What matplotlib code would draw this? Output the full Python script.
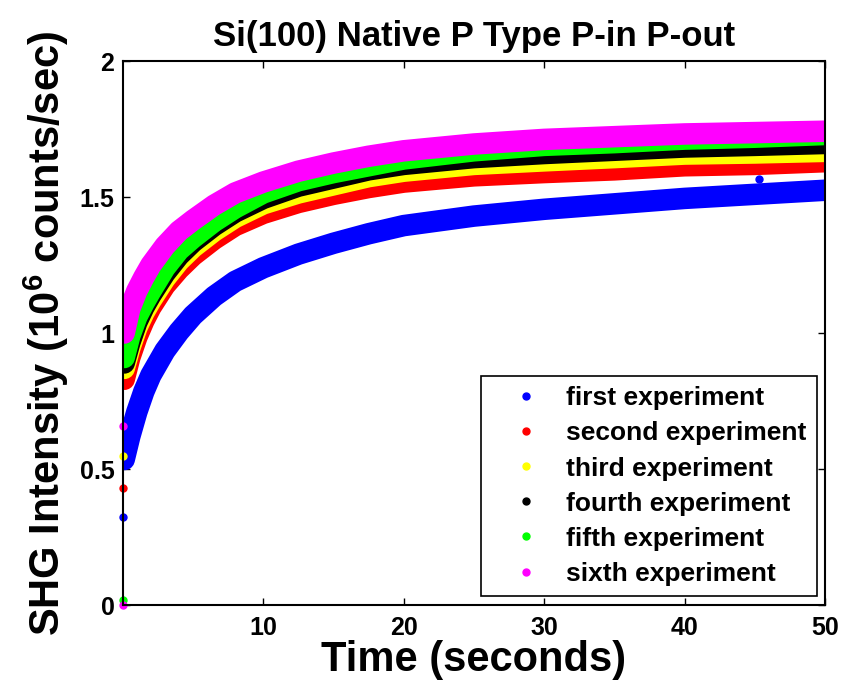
import numpy as np
import matplotlib.pyplot as plt
from matplotlib.lines import Line2D

plt.rcParams['font.family'] = 'Liberation Sans'
plt.rcParams['font.weight'] = 'bold'
plt.rcParams['mathtext.fontset'] = 'custom'
plt.rcParams['mathtext.rm'] = 'Liberation Sans:bold'
plt.rcParams['mathtext.bf'] = 'Liberation Sans:bold'

# data (time in s, intensity in 10^6 counts/sec)
t = [0.1, 0.5, 1, 1.5, 2, 3, 4, 5, 6.5, 8, 10, 12.5, 15, 17.5, 20, 25, 30, 35, 40, 45, 50]
first = [0.535, 0.62, 0.71, 0.785, 0.845, 0.935, 1.005, 1.065, 1.135, 1.19, 1.24, 1.29, 1.33, 1.365,
         1.395, 1.43, 1.455, 1.475, 1.495, 1.51, 1.525]
second = [0.83, 0.91, 0.985, 1.045, 1.095, 1.175, 1.235, 1.285, 1.345, 1.395, 1.44, 1.48, 1.51, 1.535,
          1.555, 1.578, 1.59, 1.60, 1.615, 1.62, 1.63]
third = [0.87, 0.945, 1.02, 1.075, 1.12, 1.2, 1.265, 1.315, 1.375, 1.425, 1.475, 1.515, 1.545, 1.575,
         1.595, 1.62, 1.633, 1.645, 1.658, 1.662, 1.668]
fourth = [0.89, 0.965, 1.04, 1.095, 1.14, 1.22, 1.285, 1.335, 1.395, 1.445, 1.495, 1.54, 1.57, 1.60,
          1.62, 1.645, 1.66, 1.672, 1.684, 1.69, 1.697]
fifth = [0.91, 0.99, 1.06, 1.11, 1.155, 1.24, 1.305, 1.35, 1.41, 1.46, 1.515, 1.56, 1.59, 1.615,
         1.64, 1.67, 1.69, 1.70, 1.713, 1.72, 1.73]
sixth = [1.0, 1.09, 1.155, 1.205, 1.25, 1.32, 1.375, 1.415, 1.47, 1.515, 1.555, 1.595, 1.625, 1.65,
         1.67, 1.695, 1.712, 1.722, 1.732, 1.737, 1.742]

# stray points
out_t = [[0.05, 45.3], [0.05], [0.05], [], [0.05], [0.05, 0.05]]
out_y = [[0.323, 1.566], [0.431], [0.548], [], [0.018], [0.658, 0.0]]

series = [first, second, third, fourth, fifth, sixth]
labels = ['first experiment', 'second experiment', 'third experiment',
          'fourth experiment', 'fifth experiment', 'sixth experiment']
colors = ['#0000ff', '#ff0000', '#ffff00', '#000000', '#00ff00', '#ff00ff']

fig = plt.figure(figsize=(8.41, 6.86), dpi=100)
ax = fig.add_axes([0.146, 0.118, 0.835, 0.793])

for s, c, ot, oy in zip(series, colors, out_t, out_y):
    ax.plot(t, s, '-', color=c, lw=15.5, solid_capstyle='round', solid_joinstyle='round')
    ax.plot(ot, oy, 'o', color=c, markersize=5, clip_on=False)

ax.set_xlim(0, 50)
ax.set_ylim(0, 2)
ax.set_xticks([10, 20, 30, 40, 50])
ax.set_yticks([0, 0.5, 1, 1.5, 2])
ax.set_yticklabels(['0', '0.5', '1', '1.5', '2'])
ax.tick_params(direction='in', top=True, right=True, length=5, width=1, labelsize=18, pad=6)
ax.tick_params(axis='x', pad=8)
for sp in ax.spines.values():
    sp.set_linewidth(1.5)

ax.set_title('Si(100) Native P Type P-in P-out', fontsize=25, fontweight='bold', pad=11)
ax.set_xlabel('Time (seconds)', fontsize=30, fontweight='bold', labelpad=0)
ax.set_ylabel(r'SHG Intensity (10$^{6}$ counts/sec)', fontsize=30, fontweight='bold', labelpad=6)

handles = [Line2D([], [], marker='o', ls='none', color=c, markersize=5) for c in colors]
leg = ax.legend(handles, labels, loc='lower right', fontsize=19, frameon=True, fancybox=False,
                edgecolor='black', framealpha=1, handletextpad=0.2, labelspacing=0.42,
                borderpad=0.4, handlelength=2.6, borderaxespad=0,
                bbox_to_anchor=(0.988, 0.016))
leg.get_frame().set_linewidth(1.2)

fig.savefig('out.png', dpi=100)
